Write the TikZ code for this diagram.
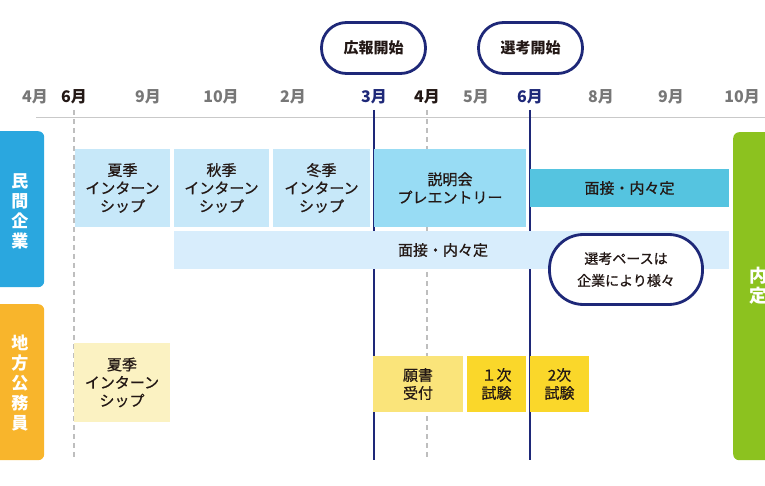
\documentclass[tikz,border=0pt]{standalone}
\usepackage{fontspec}
\setmainfont{Noto Sans CJK JP}
\newfontfamily\medfont{Noto Sans CJK JP}[FakeBold=0.8]
\definecolor{navy}{RGB}{30,40,120}
\definecolor{ink}{RGB}{35,24,21}
\definecolor{mgray}{RGB}{119,119,119}
\definecolor{axisgray}{RGB}{201,201,201}
\definecolor{dashgray}{RGB}{190,190,190}
\definecolor{internblue}{RGB}{199,232,249}
\definecolor{setsublue}{RGB}{152,220,244}
\definecolor{mensetsublue}{RGB}{85,196,224}
\definecolor{longblue}{RGB}{216,237,252}
\definecolor{barblue}{RGB}{42,167,223}
\definecolor{barorange}{RGB}{248,181,44}
\definecolor{bargreen}{RGB}{140,194,31}
\definecolor{paleyellow}{RGB}{251,242,194}
\definecolor{midyellow}{RGB}{250,228,122}
\definecolor{deepyellow}{RGB}{250,215,42}
\begin{document}
\begin{tikzpicture}[x=1pt,y=-1pt,
  stagebox/.style={anchor=north west, inner sep=0pt, outer sep=0pt, align=center, text=ink, font=\fontsize{15}{18}\selectfont\medfont},
  mon/.style={font=\fontsize{16}{18}\selectfont\bfseries, text=mgray, inner sep=0pt},
  monbold/.style={mon, text=ink},
  monnavy/.style={mon, text=navy},
  pill/.style={draw=navy, line width=2.8pt, fill=white, rounded corners=25pt, minimum width=104pt, minimum height=51pt, inner sep=0pt, font=\fontsize{15}{18}\selectfont\bfseries, text=ink},
  sidebar/.style={anchor=north west, inner sep=0pt, rounded corners=6pt, minimum width=54pt},
  vlabel/.style={text=white, align=center, inner sep=0pt, font=\fontsize{17}{20}\selectfont\bfseries},
  navyline/.style={draw=navy, line width=1.8pt},
  dashline/.style={draw=dashgray, line width=1.2pt, dash pattern=on 5pt off 4pt}
]
\useasboundingbox (0,0) rectangle (765,486);

% axis
\coordinate (axL) at (36,118);
\coordinate (axR) at (765,118);
\draw[axisgray, line width=1pt] (axL) -- (axR);

% month labels
\node[mon]      (m4a)  at (35,97)  {4月};
\node[monbold]  (m6a)  at (74,97)  {6月};
\node[mon]      (m9a)  at (148,97) {9月};
\node[mon]      (m10a) at (221,97) {10月};
\node[mon]      (m2)   at (293,97) {2月};
\node[monnavy]  (m3)   at (374,97) {3月};
\node[monbold]  (m4b)  at (427,97) {4月};
\node[mon]      (m5)   at (476,97) {5月};
\node[monnavy]  (m6b)  at (530,97) {6月};
\node[mon]      (m8)   at (601,97) {8月};
\node[mon]      (m9b)  at (671,97) {9月};
\node[mon]      (m10b) at (742,97) {10月};

% vertical lines
\coordinate (d1t) at (74,110);  \coordinate (d1b) at (74,460);
\coordinate (d2t) at (427,110); \coordinate (d2b) at (427,460);
\coordinate (n1t) at (374,110); \coordinate (n1b) at (374,460);
\coordinate (n2t) at (530,110); \coordinate (n2b) at (530,460);
\draw[dashline] (d1t) -- (d1b);
\draw[dashline] (d2t) -- (d2b);
\draw[navyline] (n1t) -- (n1b);
\draw[navyline] (n2t) -- (n2b);

% side bars
\node[sidebar, fill=barblue, minimum height=156pt] (barA) at (-10,131) {};
\node[vlabel] (barAt) at (20,211) {民\\間\\企\\業};
\node[sidebar, fill=barorange, minimum height=156pt] (barB) at (-10,304) {};
\node[vlabel] (barBt) at (20,383) {地\\方\\公\\務\\員};
\node[anchor=north west, inner sep=0pt, rounded corners=6pt, fill=bargreen, minimum width=50pt, minimum height=328pt] (barC) at (733,132) {};
\node[vlabel, font=\fontsize{18}{20}\selectfont\bfseries] (barCt) at (758,286) {内\\定};

% private company row
\node[stagebox, fill=internblue, minimum width=95pt, minimum height=78pt] (s1) at (75,149) {夏季\\インターン\\シップ};
\node[stagebox, fill=internblue, minimum width=95pt, minimum height=78pt] (s2) at (174,149) {秋季\\インターン\\シップ};
\node[stagebox, fill=internblue, minimum width=97pt, minimum height=78pt] (s3) at (273,149) {冬季\\インターン\\シップ};
\node[stagebox, fill=setsublue, minimum width=152pt, minimum height=78pt] (s4) at (374,149) {説明会\\プレエントリー};
\node[stagebox, fill=mensetsublue, minimum width=199pt, minimum height=38pt] (s5) at (530,169) {面接・内々定};
\node[stagebox, fill=longblue, minimum width=555pt, minimum height=38pt] (s6) at (174,231) {};
\node[text=ink, font=\fontsize{15}{18}\selectfont\medfont, inner sep=0pt] (s6t) at (443,250) {面接・内々定};

% local government row
\node[stagebox, fill=paleyellow, minimum width=96pt, minimum height=79pt] (g1) at (74,343) {夏季\\インターン\\シップ};
\node[stagebox, fill=midyellow, minimum width=90pt, minimum height=56pt] (g2) at (373,356) {願書\\受付};
\node[stagebox, fill=deepyellow, minimum width=59pt, minimum height=56pt] (g3) at (467,356) {１次\\試験};
\node[stagebox, fill=deepyellow, minimum width=59pt, minimum height=56pt] (g4) at (530,356) {2次\\試験};

% pills
\node[pill] (p1) at (373.5,48) {広報開始};
\node[pill] (p2) at (530.5,48) {選考開始};

% bubble
\node[draw=navy, line width=2.8pt, fill=white, rounded corners=34pt, minimum width=153pt, minimum height=70pt, inner sep=0pt, align=center, text=ink, font=\fontsize{14}{22}\selectfont\medfont] (bub) at (626,269.5) {選考ペースは\\企業により様々};
\end{tikzpicture}
\end{document}
